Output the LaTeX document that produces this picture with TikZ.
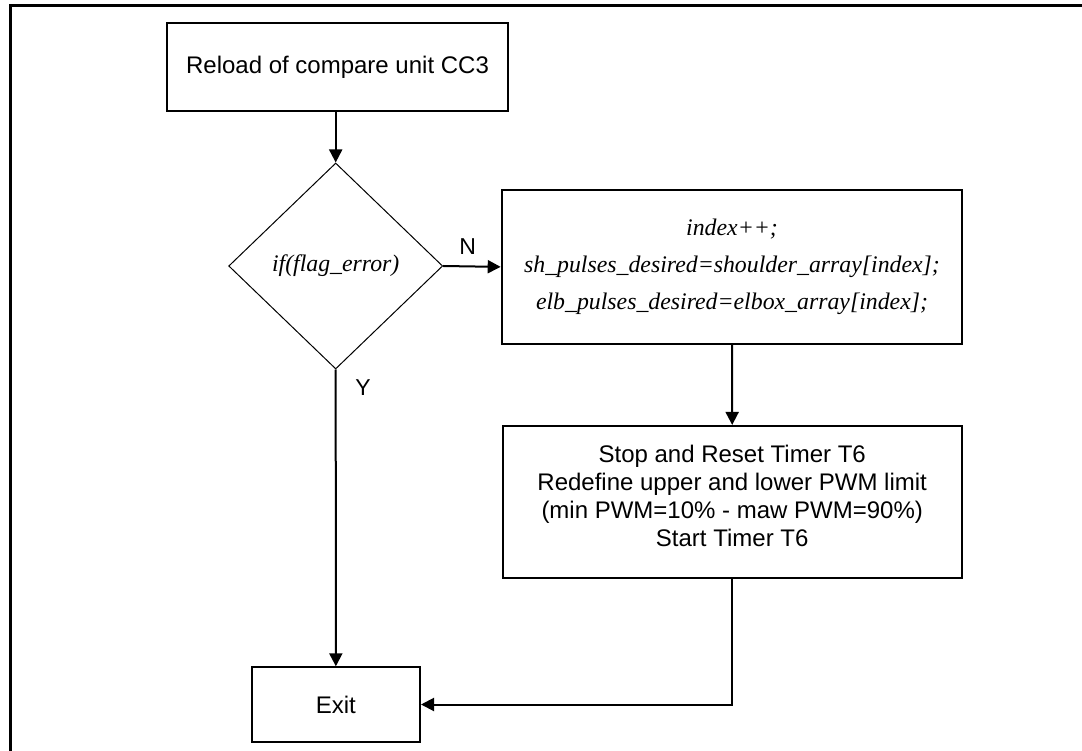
\documentclass[tikz,border=0pt]{standalone}
\usepackage{fontspec}
\setmainfont{Liberation Serif}
\setsansfont{Liberation Sans}
\usetikzlibrary{shapes.geometric,arrows.meta}
\begin{document}
\begin{tikzpicture}[x=1pt,y=-1pt,
  every node/.style={font=\sffamily\fontsize{24}{28}\selectfont},
  proc/.style={draw, line width=2pt, inner sep=0pt, align=center},
  decision/.style={draw, diamond, line width=1pt, inner sep=0pt},
  code/.style={font=\rmfamily\itshape\fontsize{23.8}{37}\selectfont},
  flow/.style={line width=2pt, -{Triangle[length=13pt,width=13pt]}},
  branch/.style={font=\sffamily\fontsize{23}{23}\selectfont, inner sep=0pt}
]
\useasboundingbox (0,0) rectangle (1082,751);
% outer frame (only its top and left sides fall inside the page)
\draw[line width=3pt] (10,770) -- (10,5.7) -- (1100,5.7);

% blocks
\node[proc, minimum width=341.6pt, minimum height=88.3pt] (reload) at (337.5,66.9) {Reload of compare unit CC3};
\node[decision, code, minimum width=214pt, minimum height=206pt] (test) at (335.7,266) {if(flag\_error)};
\node[proc, code, minimum width=460.6pt, minimum height=153.7pt] (update) at (732,266.9)
  {index++;\\sh\_pulses\_desired=shoulder\_array[index];\\elb\_pulses\_desired=elbox\_array[index];};
\node[proc, minimum width=459pt, minimum height=152.5pt,
  label={[name=timertext, align=center, yshift=6.7pt]center:{Stop and Reset Timer T6\\Redefine upper and lower PWM limit\\(min PWM=10\% - maw PWM=90\%)\\Start Timer T6}}]
  (timer) at (732.2,502.2) {};
\node[proc, minimum width=168.3pt, minimum height=74.4pt] (exit) at (335.85,704.5) {Exit};

% branch labels
\node[branch] (nlabel) at (467.7,246.7) {N};
\node[branch] (ylabel) at (363,388) {Y};

% connectors
\draw[flow] (reload.south -| test.north) -- (test.north);
\draw[flow] (test.east) -- (update.west);
\draw[flow] (update.south) -- (timer.north);
\draw[flow] (test.south) -- (exit.north);
\draw[flow] (timer.south) |- (exit.east);
\end{tikzpicture}
\end{document}
